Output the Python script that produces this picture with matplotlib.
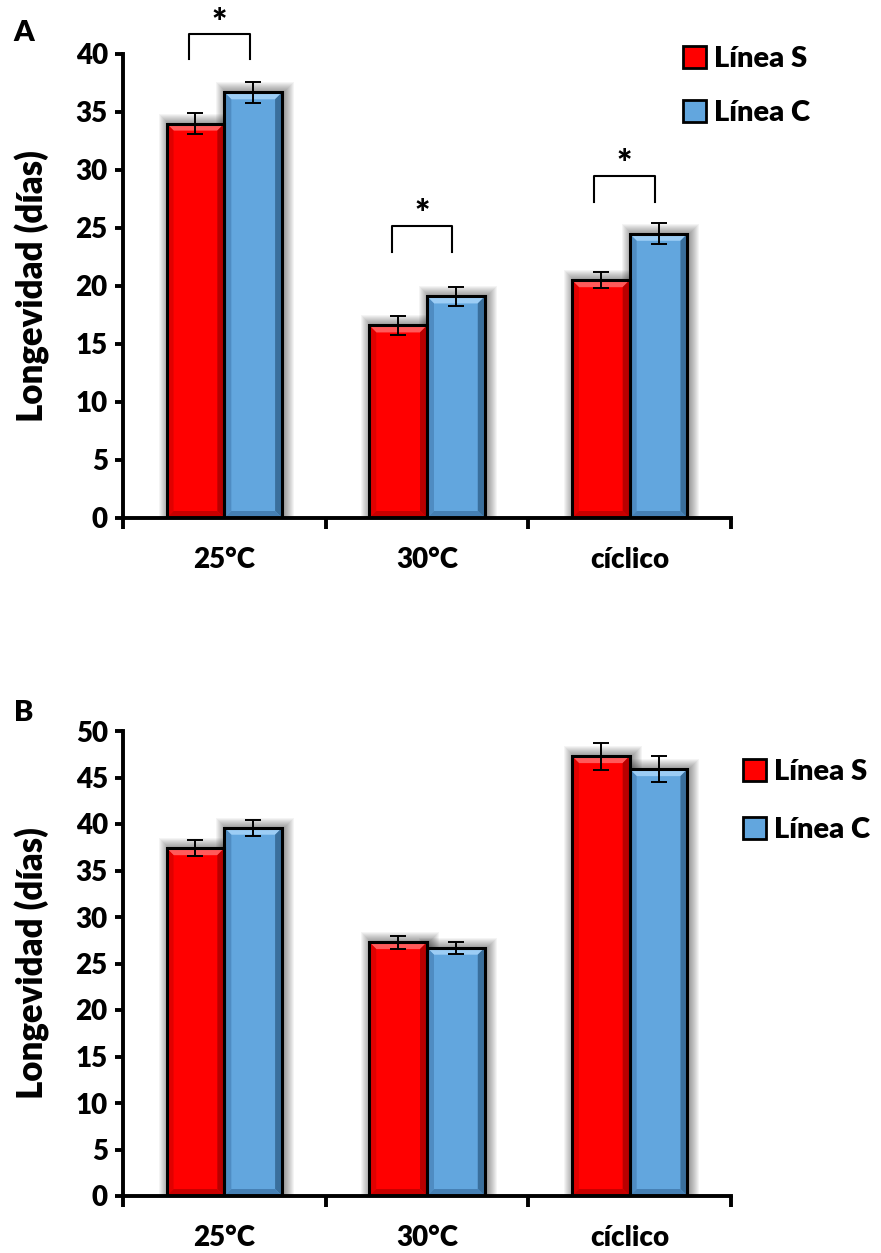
import numpy as np
import matplotlib.pyplot as plt
from matplotlib.patches import Rectangle, Polygon, Patch

plt.rcParams['font.family'] = ['Lato', 'DejaVu Sans']
plt.rcParams['font.weight'] = 'heavy'

# Datos de longevidad por condición de temperatura
categorias = ['25°C', '30°C', 'cíclico']
series = ['Línea S', 'Línea C']

# Panel A
a_linea_s = [34.0, 16.6, 20.5]
a_linea_s_err = [0.9, 0.8, 0.7]
a_linea_c = [36.7, 19.1, 24.5]
a_linea_c_err = [0.9, 0.85, 0.9]
a_corchete_sup = [41.7, 25.2, 29.5]
a_corchete_inf = [39.6, 22.9, 27.2]

# Panel B
b_linea_s = [37.4, 27.3, 47.3]
b_linea_s_err = [0.85, 0.7, 1.45]
b_linea_c = [39.6, 26.7, 45.9]
b_linea_c_err = [0.85, 0.65, 1.4]

rojo = ['#FF0000', '#FF5A5A', '#B80000', '#E00000', '#C80000']
azul = ['#62A6DE', '#9CCDF5', '#3A6F9C', '#4F8CC2', '#4680B4']

W, H, DPI = 881, 1253, 100
fig = plt.figure(figsize=(W / DPI, H / DPI), dpi=DPI)
ax_a = fig.add_axes([123 / W, 1 - 518 / H, 608 / W, 464 / H])
ax_b = fig.add_axes([123 / W, 1 - 1196 / H, 608 / W, 465 / H])

ancho = 0.285


def barras_biseladas(ax, x, vals, errs, colores, dx, dy):
    base, claro, oscuro, izq, abajo = colores
    rects = ax.bar(x, vals, ancho, align='edge', color=base, zorder=2)
    for r in rects:
        x0, h = r.get_x(), r.get_height()
        x1 = x0 + r.get_width()
        # sombra difusa alrededor de la barra
        for k in range(1, 11):
            ax.add_patch(Rectangle((x0 - k * dx + 2 * dx, 0), (x1 - x0) + 2 * k * dx,
                                   h + k * dy, facecolor='black', edgecolor='none',
                                   alpha=0.045, zorder=1))
        bx, by = 7 * dx, 7 * dy
        ax.add_patch(Polygon([(x0, h), (x1, h), (x1 - bx, h - by), (x0 + bx, h - by)],
                             closed=True, facecolor=claro, edgecolor='none', zorder=2.1))
        ax.add_patch(Polygon([(x1, h), (x1, 0), (x1 - bx, by), (x1 - bx, h - by)],
                             closed=True, facecolor=oscuro, edgecolor='none', zorder=2.1))
        ax.add_patch(Polygon([(x0, h), (x0 + bx, h - by), (x0 + bx, by), (x0, 0)],
                             closed=True, facecolor=izq, edgecolor='none', zorder=2.1))
        ax.add_patch(Polygon([(x0, 0), (x1, 0), (x1 - bx, by), (x0 + bx, by)],
                             closed=True, facecolor=abajo, edgecolor='none', zorder=2.1))
    ax.bar(x, vals, ancho, align='edge', fill=False, edgecolor='black', linewidth=2.2, zorder=2.2)
    ax.errorbar(x + ancho / 2, vals, yerr=errs, fmt='none', ecolor='black',
                elinewidth=1.4, capsize=6, capthick=1.4, zorder=3)


def panel(ax, s, s_err, c, c_err, ymax):
    ax.set_xlim(-0.5, 2.5)
    ax.set_ylim(0, ymax)
    pos = ax.get_position()
    dx = 3 / (pos.width * W)
    dy = ymax / (pos.height * H)
    x = np.arange(len(categorias))
    barras_biseladas(ax, x - ancho, s, s_err, rojo, dx, dy)
    barras_biseladas(ax, x, c, c_err, azul, dx, dy)

    for lado in ['top', 'right']:
        ax.spines[lado].set_visible(False)
    for lado in ['left', 'bottom']:
        ax.spines[lado].set_linewidth(2.8)
        ax.spines[lado].set_zorder(4)
    ax.set_xticks(x)
    ax.set_xticklabels(categorias)
    ax.set_xticks(np.arange(-0.5, 3, 1), minor=True)
    ax.tick_params(axis='x', which='major', length=0, pad=21, labelsize=20)
    ax.tick_params(axis='x', which='minor', length=8, width=2.8, direction='out')
    ax.set_yticks(np.arange(0, ymax + 1, 5))
    ax.tick_params(axis='y', length=6, width=2.8, pad=5, labelsize=20)
    ax.set_ylabel('Longevidad (días)', fontsize=25, fontweight='heavy')
    ax.yaxis.set_label_coords(-0.12, 0.5)


panel(ax_a, a_linea_s, a_linea_s_err, a_linea_c, a_linea_c_err, 40)
panel(ax_b, b_linea_s, b_linea_s_err, b_linea_c, b_linea_c_err, 50)

# Corchetes de significancia en el panel A
for i, (sup, inf) in enumerate(zip(a_corchete_sup, a_corchete_inf)):
    xl, xr = i - 0.175, i + 0.125
    ax_a.plot([xl, xl, xr, xr], [inf, sup, sup, inf], color='black', linewidth=1.5,
              clip_on=False, zorder=3)
    ax_a.annotate('*', xy=((xl + xr) / 2, sup), xytext=(0, 8), textcoords='offset points',
                  ha='center', va='center', fontsize=26, fontweight='heavy',
                  annotation_clip=False)

handles = [Patch(facecolor=rojo[0], edgecolor='black', linewidth=2),
           Patch(facecolor=azul[0], edgecolor='black', linewidth=2)]
fig.legend(handles, series, loc='upper left', bbox_to_anchor=(683 / W, 1 - 46 / H),
           frameon=False, fontsize=21, handlelength=0.78, handleheight=0.78,
           handletextpad=0.3, labelspacing=0.95, borderpad=0, borderaxespad=0)
fig.legend(handles, series, loc='upper left', bbox_to_anchor=(743 / W, 1 - 759 / H),
           frameon=False, fontsize=21, handlelength=0.78, handleheight=0.78,
           handletextpad=0.3, labelspacing=1.1, borderpad=0, borderaxespad=0)

fig.text(24 / W, 1 - 33 / H, 'A', fontsize=21, fontweight='heavy', ha='center', va='center')
fig.text(24 / W, 1 - 713 / H, 'B', fontsize=21, fontweight='heavy', ha='center', va='center')

fig.savefig('out.png', dpi=DPI)
